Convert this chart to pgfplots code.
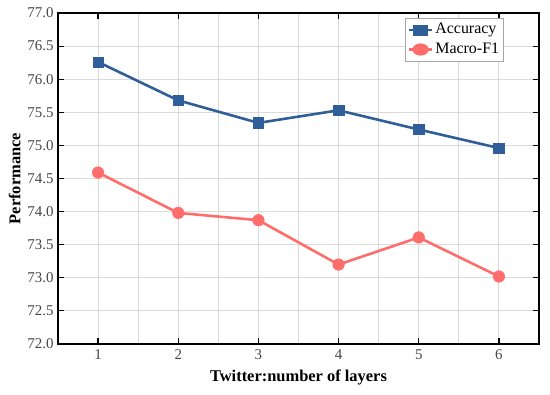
\documentclass[border=0pt]{standalone}
\usepackage{pgfplots}
\pgfplotsset{compat=1.18}
\usepackage{fontspec}
\setmainfont{Liberation Serif}
\definecolor{accblue}{RGB}{47,94,152}
\definecolor{f1red}{RGB}{255,108,108}
\definecolor{tickgray}{RGB}{70,70,70}
\definecolor{gridgray}{RGB}{218,218,218}
\begin{document}
\begin{tikzpicture}[x=1bp,y=1bp]
\begin{axis}[
  at={(0,0)}, anchor=south west,
  scale only axis,
  width=481bp, height=331bp,
  xmin=0.5, xmax=6.5, ymin=72, ymax=77,
  xtick={1,2,3,4,5,6},
  minor xtick={1.5,2.5,3.5,4.5,5.5},
  ytick={72,72.5,...,77},
  yticklabel style={xshift=-1bp, /pgf/number format/.cd,fixed,fixed zerofill,precision=1},
  /pgf/number format/assume math mode=true,
  tick align=inside,
  major tick length=6bp,
  minor tick length=0pt,
  tick style={black, line width=1.2pt},
  axis line style={black, line width=1.4pt},
  grid=both,
  major grid style={gridgray, line width=0.9pt},
  minor grid style={gridgray, line width=0.9pt},
  ticklabel style={font=\fontsize{15}{17}\selectfont, text=tickgray},
  xticklabel style={yshift=-2bp},
  xlabel={Twitter:number of layers},
  ylabel={Performance},
  label style={font=\fontsize{16.5}{18}\selectfont\bfseries},
  xlabel style={yshift=-4bp},
  ylabel style={yshift=0bp},
  legend style={at={(0.927,0.985)}, anchor=north east, draw=gray!70, line width=0.6pt,
    font=\fontsize{16}{18}\selectfont, row sep=1bp, inner sep=2.5bp,
    nodes={inner sep=2bp, text height=11bp, text depth=3.5bp}},
  legend cell align=left,
  legend image post style={xscale=1.35},
]
\addplot[accblue, line width=2.6pt, mark=square*, mark size=5.2bp, mark options={fill=accblue, draw=accblue, line width=0.5pt}]
  coordinates {(1,76.26) (2,75.68) (3,75.34) (4,75.53) (5,75.24) (6,74.96)};
\addlegendentry{Accuracy}
\addplot[f1red, line width=2.6pt, mark=*, mark size=5.8bp, mark options={fill=f1red, draw=f1red, line width=0.5pt}]
  coordinates {(1,74.59) (2,73.98) (3,73.87) (4,73.20) (5,73.61) (6,73.02)};
\addlegendentry{Macro-F1}
\end{axis}
\useasboundingbox (-58bp,-51bp) rectangle (492bp,344bp);
\end{tikzpicture}
\end{document}
